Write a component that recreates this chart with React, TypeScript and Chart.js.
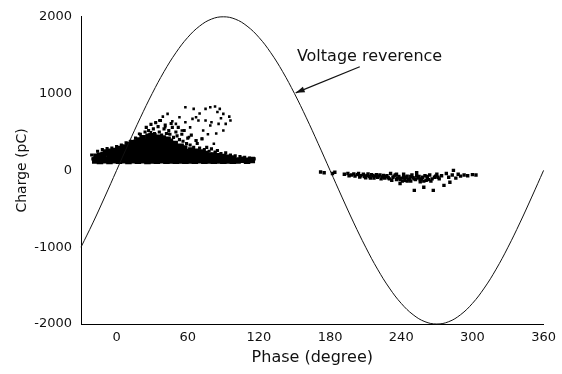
import React, { useEffect, useRef } from "react";
import { Chart, registerables } from "chart.js";

Chart.register(...registerables);

// Voltage reference curve (phase in degrees, voltage-scaled to pC axis)
const phaseDeg = [-30, -20, -10, 0, 10, 20, 30, 40, 50, 60, 70, 80, 90, 100, 110, 120, 130, 140, 150, 160, 170, 180, 190, 200, 210, 220, 230, 240, 250, 260, 270, 280, 290, 300, 310, 320, 330, 340, 350, 360];
const voltageRef = [-1000, -684, -347, 0, 347, 684, 1000, 1286, 1532, 1732, 1879, 1970, 2000, 1970, 1879, 1732, 1532, 1286, 1000, 684, 347, 0, -347, -684, -1000, -1286, -1532, -1732, -1879, -1970, -2000, -1970, -1879, -1732, -1532, -1286, -1000, -684, -347, 0];

const xTicks = [0, 60, 120, 180, 240, 300, 360];
const yTicks = [-2000, -1000, 0, 1000, 2000];

const xTitle = "Phase (degree)";
const yTitle = "Charge (pC)";
const annotationText = "Voltage reverence";
const annotationTextPos = [152, 1474];
const arrowFrom = [205, 1350];
const arrowTo = [151, 1010];

// Dense core of the positive-half-cycle PD cluster
const denseBlob: [number, number][] = [
  [-18, 130], [-17, 178], [-14, 122], [-14, 190], [-10, 132], [-11, 200], [-9, 232],
  [-6, 124], [-6, 186], [-5, 243], [-2, 131], [-2, 196], [-1, 254],
  [2, 126], [2, 190], [3, 248], [2, 278], [6, 131], [6, 196], [7, 254], [6, 298],
  [10, 124], [10, 186], [11, 246], [10, 304], [11, 330], [14, 131], [14, 190], [15, 251], [14, 309], [13, 352],
  [18, 126], [18, 185], [19, 244], [18, 306], [17, 362], [19, 388],
  [22, 131], [22, 195], [23, 259], [22, 320], [21, 378], [22, 418],
  [26, 124], [26, 190], [27, 250], [26, 311], [25, 371], [27, 438],
  [30, 130], [30, 195], [31, 256], [30, 316], [29, 379], [31, 444],
  [34, 125], [34, 186], [35, 244], [34, 306], [33, 365], [35, 424],
  [38, 131], [38, 190], [39, 251], [38, 310], [37, 370], [39, 414],
  [42, 125], [42, 186], [43, 246], [42, 304], [41, 360], [43, 398],
  [46, 130], [46, 195], [47, 255], [46, 314], [45, 373],
  [50, 125], [50, 185], [51, 245], [50, 300], [49, 344],
  [54, 130], [54, 190], [55, 250], [54, 308],
  [58, 125], [58, 185], [59, 240], [57, 284],
  [62, 130], [62, 194], [63, 258],
  [66, 125], [66, 185], [67, 244],
  [70, 131], [70, 190], [71, 233],
  [74, 125], [74, 180], [75, 214],
  [78, 130], [78, 190], [82, 125], [82, 194],
  [86, 130], [86, 184], [90, 125], [90, 174],
  [94, 130], [94, 164], [98, 125], [98, 154],
  [102, 130], [106, 140], [110, 125], [114, 134]
];

// Medium density fringe of the same cluster
const fringe: [number, number][] = [
  [12, 380], [16, 420], [20, 470], [21, 440], [24, 500], [25, 560], [27, 520], [28, 470], [29, 600],
  [31, 540], [32, 480], [33, 620], [35, 570], [36, 500], [37, 650], [38, 460], [40, 540], [41, 590],
  [42, 480], [44, 520], [45, 470], [46, 610], [47, 560], [48, 430], [50, 500], [51, 450], [52, 560],
  [53, 400], [55, 470], [56, 380], [57, 520], [59, 350], [60, 420], [62, 330], [63, 460], [65, 300],
  [67, 390], [68, 350], [70, 290], [72, 410], [74, 270], [76, 300], [78, 250], [80, 280], [83, 240],
  [85, 260], [88, 220], [92, 230], [96, 200], [100, 190], [104, 180], [108, 170], [112, 160], [116, 150],
  [-20, 150], [-21, 200], [-16, 250], [-12, 270], [-8, 285], [-4, 290], [0, 310], [4, 330], [8, 360]
];

// Sparse high-charge discharges
const sparseHigh: [number, number][] = [
  [43, 736], [58, 822], [65, 801], [67, 692], [75, 801], [79, 822], [83, 831], [87, 801], [90, 736],
  [96, 649], [92, 606], [86, 606], [80, 628], [75, 649], [69, 649], [64, 671], [58, 628], [53, 692],
  [50, 606], [55, 519], [61, 433], [67, 390], [72, 411], [82, 346], [44, 476], [41, 563], [36, 649],
  [33, 628], [25, 563], [29, 498], [19, 476], [22, 411], [14, 368], [73, 519], [79, 584], [85, 760],
  [95, 700], [88, 680], [70, 740], [62, 560], [47, 640], [39, 700], [84, 480], [90, 520], [77, 470]
];

// Negative-half-cycle PD cluster
const negCluster: [number, number][] = [
  [172, -20], [175, -30], [182, -40], [184, -25],
  [192, -50], [195, -40], [198, -60], [200, -45], [203, -55], [206, -70], [208, -50], [211, -65],
  [213, -80], [215, -55], [218, -75], [220, -90], [222, -60], [224, -85], [226, -100], [228, -70],
  [230, -110], [231, -40], [233, -90], [235, -60], [236, -120], [238, -80], [239, -170], [240, -100],
  [242, -50], [243, -130], [245, -75], [246, -110], [248, -140], [249, -60], [250, -95], [251, -260],
  [252, -120], [253, -30], [255, -80], [256, -150], [257, -110], [259, -220], [260, -70], [261, -130],
  [262, -100], [264, -60], [265, -140], [267, -260], [268, -90], [270, -50], [272, -110], [274, -70],
  [276, -195], [278, -40], [280, -90], [281, -155], [283, -60], [284, 0], [286, -100], [288, -50],
  [290, -75], [293, -60], [296, -70], [300, -55], [303, -60],
  [205, -85], [210, -95], [217, -100], [223, -110], [227, -80], [232, -130], [237, -100], [241, -140],
  [244, -90], [247, -120], [254, -100], [258, -90], [263, -120],
  [196, -70], [201, -75], [204, -40], [209, -80], [212, -45], [214, -100], [216, -70], [219, -55],
  [221, -75], [225, -65], [229, -95], [234, -75], [236, -50], [239, -120], [242, -90], [245, -140],
  [248, -80], [251, -110], [253, -70], [256, -120], [259, -140], [262, -80], [266, -110], [269, -75], [271, -90]
];

const toPts = (arr: [number, number][]) => arr.map(([x, y]) => ({ x, y }));

const annotationPlugin = {
  id: "voltageAnnotation",
  afterDatasetsDraw(chart: any) {
    const { ctx, scales } = chart;
    const xs = scales.x;
    const ys = scales.y;
    ctx.save();
    ctx.fillStyle = "#111";
    ctx.font = "16px 'DejaVu Sans'";
    ctx.textAlign = "left";
    ctx.textBaseline = "middle";
    ctx.fillText(annotationText, xs.getPixelForValue(annotationTextPos[0]), ys.getPixelForValue(annotationTextPos[1]));
    const x1 = xs.getPixelForValue(arrowFrom[0]);
    const y1 = ys.getPixelForValue(arrowFrom[1]);
    const x2 = xs.getPixelForValue(arrowTo[0]);
    const y2 = ys.getPixelForValue(arrowTo[1]);
    ctx.strokeStyle = "#111";
    ctx.lineWidth = 1.2;
    ctx.beginPath();
    ctx.moveTo(x1, y1);
    ctx.lineTo(x2, y2);
    ctx.stroke();
    const ang = Math.atan2(y2 - y1, x2 - x1);
    const len = 9;
    const w = 3;
    ctx.beginPath();
    ctx.moveTo(x2, y2);
    ctx.lineTo(x2 - len * Math.cos(ang) + w * Math.sin(ang), y2 - len * Math.sin(ang) - w * Math.cos(ang));
    ctx.lineTo(x2 - len * Math.cos(ang) - w * Math.sin(ang), y2 - len * Math.sin(ang) + w * Math.cos(ang));
    ctx.closePath();
    ctx.fill();
    ctx.restore();
  }
};

export default function App() {
  const ref = useRef<HTMLCanvasElement>(null);
  useEffect(() => {
    if (!ref.current) return;
    Chart.defaults.font.family = "'DejaVu Sans'";
    const chart = new Chart(ref.current, {
      type: "scatter",
      data: {
        datasets: [
          {
            type: "line",
            label: "Voltage reference",
            data: phaseDeg.map((x, i) => ({ x, y: voltageRef[i] })),
            borderColor: "#111",
            borderWidth: 1,
            pointRadius: 0,
            tension: 0.4,
            fill: false,
            clip: 4,
          } as any,
          {
            label: "dense",
            data: toPts(denseBlob),
            pointStyle: "rect",
            pointRadius: 4.6,
            backgroundColor: "#000",
            borderWidth: 0,
          },
          {
            label: "fringe",
            data: toPts(fringe),
            pointStyle: "rect",
            pointRadius: 2.2,
            backgroundColor: "#000",
            borderWidth: 0,
          },
          {
            label: "sparse",
            data: toPts(sparseHigh),
            pointStyle: "rect",
            pointRadius: 1.8,
            backgroundColor: "#000",
            borderWidth: 0,
          },
          {
            label: "negative",
            data: toPts(negCluster),
            pointStyle: "rect",
            pointRadius: 2.4,
            backgroundColor: "#000",
            borderWidth: 0,
          },
        ],
      },
      options: {
        responsive: false,
        animation: false,
        layout: { padding: { left: 10, top: 16, right: 15, bottom: 3 } },
        plugins: { legend: { display: false }, tooltip: { enabled: false } },
        scales: {
          x: {
            type: "linear",
            min: -30,
            max: 360,
            grid: { display: true, drawOnChartArea: false, drawTicks: false },
            border: { display: true, color: "#000", width: 1 },
            afterBuildTicks: (s: any) => { s.ticks = xTicks.map((v) => ({ value: v })); },
            afterFit: (s: any) => { s.height = 47; },
            ticks: { color: "#111", font: { size: 13 }, padding: 6, maxRotation: 0, callback: (v: any) => String(v) },
            title: { display: true, text: xTitle, color: "#111", font: { size: 16 } },
          },
          y: {
            type: "linear",
            min: -2000,
            max: 2000,
            grid: { display: true, drawOnChartArea: false, drawTicks: false },
            border: { display: true, color: "#000", width: 1 },
            afterBuildTicks: (s: any) => { s.ticks = yTicks.map((v) => ({ value: v })); },
            afterFit: (s: any) => { s.width = 71; },
            ticks: { color: "#111", font: { size: 13 }, padding: 9, callback: (v: any) => String(v) },
            title: { display: true, text: yTitle, color: "#111", font: { size: 14 } },
          },
        },
      },
      plugins: [annotationPlugin],
    });
    return () => chart.destroy();
  }, []);
  return (
    <div style={{ position: "absolute", left: 0, top: 0, width: 562, height: 374, background: "#fff" }}>
      <canvas ref={ref} width={562} height={374} style={{ display: "block" }} />
    </div>
  );
}
